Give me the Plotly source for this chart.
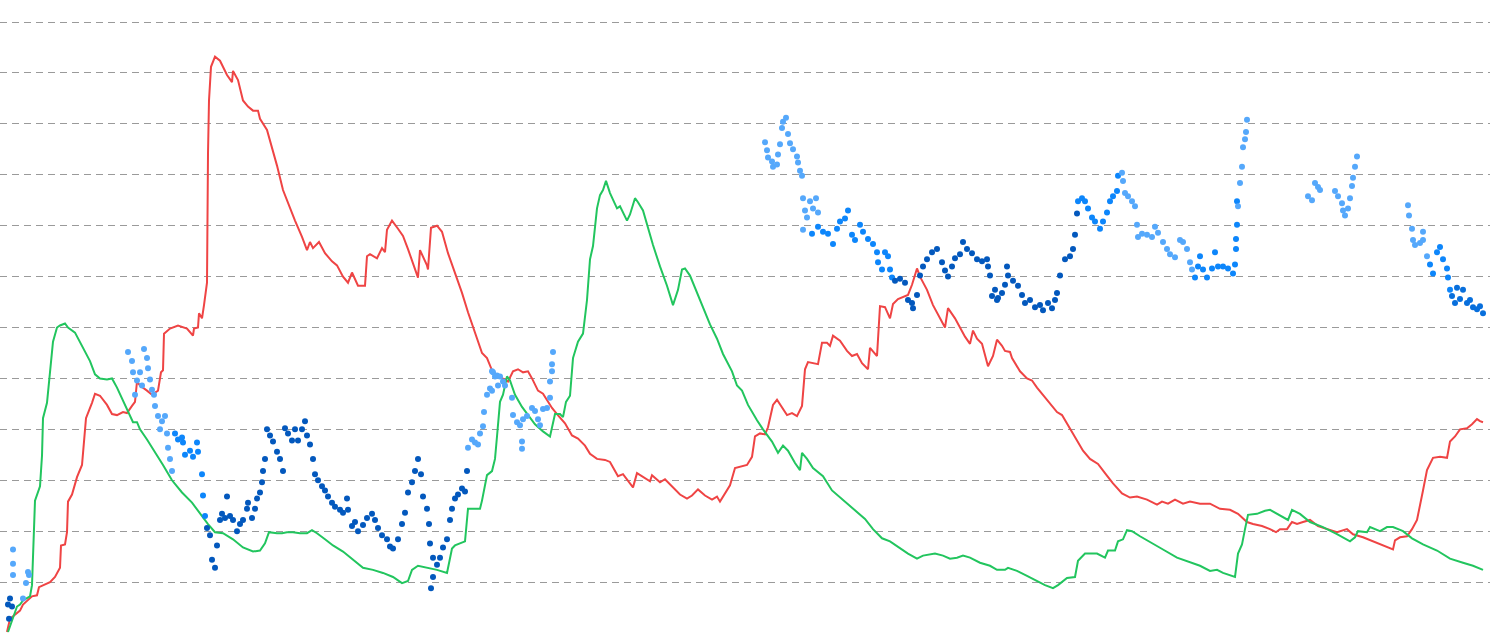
import plotly.graph_objects as go

# ---------------- data ----------------
red_x = [7, 10, 20, 23, 32, 37, 39, 50, 55, 60, 61, 65, 67, 68, 72, 77, 82, 84, 86, 92, 95, 100, 107, 112, 117, 123, 127,
         132, 135, 137, 140, 147, 152, 158, 161, 163, 164, 170, 178, 187, 193, 194, 198, 199, 202, 204, 207, 208, 209, 211,
         215, 220, 227, 232, 233, 238, 243, 248, 253, 258, 260, 267, 272, 277, 283, 288, 295, 302, 307, 310, 313, 319, 325,
         332, 337, 343, 348, 352, 358, 365, 367, 370, 377, 382, 385, 387, 392, 398, 403, 408, 413, 418, 420, 427, 428, 431,
         437, 442, 448, 455, 462, 468, 473, 482, 487, 492, 497, 508, 513, 518, 523, 528, 532, 538, 543, 552, 557, 565, 572,
         578, 585, 590, 597, 605, 610, 618, 623, 633, 637, 643, 650, 652, 660, 665, 673, 680, 687, 692, 698, 705, 712, 717,
         720, 725, 730, 735, 740, 747, 752, 755, 760, 765, 768, 773, 777, 782, 787, 792, 797, 802, 805, 808, 818, 822, 827,
         830, 833, 840, 847, 852, 857, 862, 868, 870, 877, 880, 885, 890, 893, 898, 903, 908, 912, 917, 920, 927, 933, 940,
         945, 948, 955, 960, 965, 970, 973, 977, 982, 988, 993, 997, 1002, 1005, 1010, 1012, 1020, 1027, 1032, 1037, 1043,
         1050, 1057, 1062, 1068, 1075, 1083, 1090, 1098, 1105, 1113, 1122, 1130, 1137, 1147, 1157, 1162, 1168, 1175, 1183,
         1190, 1200, 1210, 1220, 1230, 1238, 1247, 1253, 1262, 1270, 1276, 1280, 1287, 1292, 1297, 1303, 1310, 1318, 1327,
         1337, 1347, 1353, 1363, 1373, 1382, 1388, 1393, 1395, 1400, 1407, 1412, 1417, 1420, 1423, 1427, 1433, 1440, 1447,
         1450, 1455, 1460, 1467, 1472, 1477, 1480, 1483]
red_y = [1, 14, 22, 28, 36, 37, 45, 50, 55, 64, 86, 87, 99, 129, 136, 153, 165, 186, 211, 226, 235, 233, 224, 215, 214, 217,
         216, 223, 227, 247, 243, 238, 234, 238, 256, 258, 294, 299, 302, 299, 292, 299, 300, 314, 309, 322, 344, 471, 523,
         556, 566, 562, 548, 541, 552, 543, 523, 517, 513, 513, 505, 494, 477, 459, 435, 422, 405, 389, 376, 384, 378, 384,
         373, 365, 361, 350, 344, 354, 341, 341, 370, 372, 368, 378, 374, 396, 405, 397, 390, 377, 364, 349, 376, 361, 357,
         398, 400, 394, 373, 354, 334, 315, 300, 275, 270, 258, 253, 247, 257, 259, 256, 257, 250, 238, 235, 221, 215, 206,
         194, 191, 184, 176, 171, 170, 168, 154, 156, 143, 157, 153, 149, 155, 148, 151, 143, 136, 132, 135, 141, 135, 131,
         134, 129, 137, 145, 162, 163, 165, 173, 193, 196, 195, 202, 224, 229, 222, 214, 216, 213, 223, 259, 266, 264, 285,
         285, 282, 292, 287, 277, 272, 274, 265, 259, 280, 272, 321, 320, 309, 323, 328, 330, 332, 342, 358, 350, 337, 322,
         310, 300, 319, 309, 300, 291, 284, 297, 289, 284, 262, 272, 288, 282, 277, 276, 270, 257, 250, 248, 241, 234, 226,
         217, 214, 204, 192, 179, 171, 166, 157, 147, 137, 133, 134, 131, 126, 129, 127, 131, 127, 129, 127, 127, 122, 121,
         117, 109, 107, 105, 102, 99, 102, 102, 109, 107, 109, 111, 105, 102, 99, 102, 97, 94, 90, 86, 84, 82, 91, 94, 95,
         102, 111, 124, 140, 160, 172, 173, 172, 188, 193, 200, 201, 205, 210, 208, 207]

green_x = [8, 13, 17, 20, 23, 30, 32, 35, 40, 42, 43, 47, 50, 53, 57, 60, 65, 68, 75, 82, 90, 95, 100, 107, 112, 117, 122,
           128, 133, 137, 140, 147, 155, 163, 172, 182, 192, 200, 208, 215, 223, 233, 243, 253, 260, 265, 269, 277, 282,
           287, 293, 300, 307, 312, 317, 325, 333, 343, 353, 363, 373, 383, 393, 402, 408, 412, 418, 427, 437, 447, 452,
           455, 465, 468, 473, 480, 482, 487, 492, 495, 497, 500, 503, 507, 510, 515, 522, 528, 535, 543, 550, 555, 560,
           563, 566, 570, 573, 578, 583, 587, 590, 593, 597, 600, 603, 606, 610, 617, 620, 627, 630, 635, 638, 643, 648,
           653, 660, 667, 673, 678, 682, 685, 690, 697, 703, 710, 717, 723, 732, 737, 742, 748, 757, 763, 772, 778, 783,
           788, 795, 800, 802, 807, 813, 823, 832, 838, 848, 857, 865, 873, 882, 890, 900, 908, 917, 923, 935, 943, 950,
           957, 963, 970, 980, 990, 997, 1005, 1008, 1017, 1027, 1037, 1045, 1053, 1058, 1067, 1075, 1078, 1085, 1097,
           1105, 1108, 1115, 1118, 1123, 1127, 1132, 1140, 1150, 1163, 1177, 1180, 1190, 1200, 1210, 1217, 1223, 1235,
           1238, 1242, 1245, 1248, 1257, 1265, 1270, 1277, 1283, 1288, 1292, 1300, 1310, 1323, 1337, 1350, 1355, 1358,
           1367, 1370, 1380, 1387, 1393, 1403, 1412, 1423, 1437, 1450, 1463, 1473, 1483]
green_y = [1, 14, 26, 28, 32, 36, 47, 130, 144, 174, 211, 226, 256, 286, 300, 302, 304, 300, 295, 282, 267, 254, 250, 249,
           250, 241, 230, 217, 207, 207, 200, 190, 178, 165, 150, 138, 128, 117, 107, 99, 98, 92, 84, 80, 81, 88, 99, 98,
           98, 99, 99, 98, 98, 101, 98, 92, 86, 80, 72, 64, 62, 59, 55, 49, 51, 62, 66, 64, 62, 59, 83, 86, 90, 122, 122,
           122, 130, 155, 159, 171, 193, 227, 234, 252, 248, 234, 222, 214, 205, 198, 193, 215, 215, 212, 227, 233, 270,
           286, 294, 327, 367, 380, 417, 430, 435, 444, 432, 417, 419, 405, 411, 427, 423, 415, 397, 381, 360, 341, 322,
           337, 357, 358, 351, 334, 320, 303, 289, 274, 257, 243, 238, 224, 209, 200, 188, 177, 184, 179, 167, 160, 177,
           171, 162, 154, 140, 135, 126, 119, 112, 102, 93, 90, 83, 78, 73, 76, 78, 76, 73, 74, 76, 74, 69, 66, 62, 62,
           64, 61, 56, 51, 47, 44, 47, 54, 55, 71, 78, 78, 74, 81, 81, 90, 92, 101, 100, 95, 89, 82, 74, 73, 69, 66, 61,
           62, 59, 55, 78, 87, 102, 116, 117, 120, 121, 117, 114, 111, 121, 117, 109, 104, 97, 90, 94, 100, 99, 104, 100,
           104, 104, 100, 93, 87, 81, 73, 69, 66, 62]

# blue dots: x, value and colour group (0 = light, 1 = medium, 2 = dark)
blue_x = [8, 10, 12, 9, 13, 13, 13, 23, 26, 29, 28,
          128, 132, 133, 137, 135, 140, 142, 144, 147, 148, 150, 152, 154, 155, 158, 162, 165, 160, 167, 168, 170, 172,
          175, 178, 182, 183, 185, 190, 193, 197, 198, 202, 203, 205,
          207, 210, 212, 215, 217, 220, 222, 225, 227, 230, 233, 237, 240, 243, 247, 248, 252, 255, 257, 260, 262, 263,
          265, 267, 270, 273, 277, 280, 283, 285, 288, 292, 295, 298, 302, 305, 307, 310, 313, 315, 318, 322, 325, 328,
          332, 335, 340, 343, 347, 348, 352, 355, 358, 363, 367, 372, 375, 378, 382, 387, 390, 393, 398, 402, 405, 408,
          412, 415, 418, 421, 423, 427, 429, 430, 433, 431, 433, 437, 440, 443, 447, 450, 452, 455, 458, 462, 465,
          467, 468, 472, 475, 478, 480, 483, 484, 487, 490, 493, 497,
          492, 495, 500, 503, 492, 498, 505, 512, 513, 517, 520, 522, 522, 523, 527, 532, 535, 538, 540, 543, 547, 550,
          550, 552, 552, 553,
          765, 767, 768, 772, 773, 777, 778, 780, 782, 783, 786, 788, 790, 793, 797, 798, 800, 802,
          803, 805, 807, 810, 813, 816, 818,
          803, 812, 818, 823, 828, 833, 837, 840, 845, 848, 852, 855, 860, 863, 868, 873, 877, 878, 882, 885, 888, 890,
          892, 895, 900, 905, 908, 912, 913, 917, 920, 923, 927, 932, 937, 942, 945, 948, 952, 955, 960, 963, 967, 972,
          977, 982, 987, 988, 990, 992, 995, 998, 997, 1002, 1005, 1007, 1008, 1013, 1018, 1022, 1025, 1030, 1035, 1040,
          1043, 1048, 1052, 1055, 1057, 1060, 1065, 1070, 1073, 1075,
          1077, 1078, 1082, 1085, 1088, 1092, 1095, 1100, 1103, 1107, 1110, 1113, 1117,
          1118, 1122, 1123, 1125, 1128, 1132, 1135,
          1137, 1138, 1142, 1147, 1152, 1155, 1158, 1163, 1167, 1170, 1175, 1180, 1183, 1187, 1190,
          1192, 1195, 1198, 1200, 1203, 1207, 1212, 1215, 1218, 1223, 1228, 1233, 1235, 1236, 1236, 1237,
          1237, 1238, 1240, 1242, 1243, 1245, 1246, 1247,
          1308, 1312, 1315, 1318, 1320, 1335, 1338, 1342, 1343, 1345, 1348, 1350, 1352, 1353, 1355, 1357,
          1408, 1409, 1412, 1413, 1415, 1420, 1423, 1423,
          1427, 1430, 1433, 1437, 1440, 1443, 1447, 1448,
          1450, 1452, 1455, 1457, 1460, 1463, 1467, 1470, 1473, 1477, 1480, 1483]
blue_y = [28, 34, 26, 14, 82, 68, 57, 34, 49, 57, 60,
          276, 267, 256, 248, 234, 256, 243, 279, 270, 260, 249, 239, 234, 223, 213, 208, 213, 200, 196, 182, 171, 159,
          196, 190, 192, 187, 175, 179, 173, 187, 178, 156, 135, 115,
          103, 96, 72, 64, 86, 111, 117, 113, 134, 115, 111, 100, 107, 111, 122, 128, 113, 122, 132, 138, 148, 159,
          171, 200, 194, 188, 178, 171, 159, 201, 196, 189, 200, 189, 200, 208, 194, 185, 171, 156, 150, 144, 140, 134,
          128, 124, 121, 118, 132, 121, 105, 109, 100, 106, 113, 117, 111, 103, 96, 92, 85, 83, 92, 107, 118, 138,
          148, 159, 171, 156, 134, 122, 107, 88, 74, 44, 55, 67, 74, 84, 92, 111, 122, 132, 136, 142, 139,
          159, 182, 190, 187, 185, 196, 203, 217, 234, 240, 256, 253,
          257, 252, 252, 247, 238, 243, 243, 231, 214, 207, 204, 188, 181, 210, 213, 221, 218, 210, 204, 220, 221, 231,
          247, 257, 264, 276,
          482, 474, 467, 463, 458, 460, 470, 480, 496, 502, 506, 490, 481, 475, 468, 462, 454, 449,
          427, 415, 408, 424, 417, 427, 413,
          396, 392, 399, 394, 392, 382, 397, 404, 407, 415, 391, 386, 401, 394, 387, 382, 374, 364, 357, 374, 370, 357,
          349, 346, 348, 344, 327, 324, 319, 332, 351, 360, 367, 374, 377, 364, 356, 350, 360, 368, 372, 384, 377, 373,
          367, 365, 367, 360, 351, 331, 337, 329, 327, 334, 342, 360, 351, 346, 341, 332, 324, 327, 320, 322,
          317, 324, 319, 327, 334, 351, 367, 370, 377, 391,
          412, 424, 427, 424, 417, 408, 404, 397, 404, 413, 424, 429, 434,
          449, 452, 444, 432, 429, 424, 419,
          401, 389, 392, 391, 389, 399, 393, 384, 377, 372, 369, 386, 384, 377, 364,
          357, 349, 360, 370, 357, 349, 358, 374, 360, 360, 358, 353, 362, 377, 387, 401,
          424, 419, 442, 458, 477, 485, 492, 504,
          429, 425, 442, 438, 435, 434, 429, 422, 415, 410, 417, 427, 439, 447, 458, 468,
          420, 410, 397, 386, 381, 383, 394, 386,
          370, 362, 353, 374, 379, 367, 358, 349,
          337, 331, 324, 339, 328, 337, 324, 327, 320, 318, 321, 314]
blue_group = ([2, 2, 2, 2, 0, 0, 0, 0, 0, 0, 0] +
              [0] * 22 +
              [1] * 12 +
              [2] * 88 +
              [0] * 12 +
              [0] * 26 +
              [0] * 18 +
              [0] * 7 +
              [1] * 22 +
              [2] * 52 +
              [1] * 13 +
              [0] * 7 +
              [0] * 15 +
              [1] * 16 +
              [0] * 8 +
              [0] * 16 +
              [0] * 8 +
              [1] * 8 +
              [1.5] * 12)

# ---------------- figure ----------------
fig = go.Figure()

fig.add_trace(go.Scatter(x=red_x, y=red_y, mode="lines", line=dict(color="#ef4444", width=2),
                         hoverinfo="skip", showlegend=False))
fig.add_trace(go.Scatter(x=green_x, y=green_y, mode="lines", line=dict(color="#22c55e", width=2),
                         hoverinfo="skip", showlegend=False))
fig.add_trace(go.Scatter(
    x=blue_x, y=blue_y, mode="markers",
    marker=dict(size=6, color=blue_group, cmin=0, cmax=2,
                colorscale=[[0, "#55a8fb"], [0.5, "#0d86fb"], [1, "#0358bd"]],
                line=dict(width=0)),
    hoverinfo="skip", showlegend=False))

fig.update_layout(
    width=1490, height=633,
    margin=dict(l=0, r=0, t=20, b=0),
    paper_bgcolor="white", plot_bgcolor="white",
    showlegend=False,
)
fig.update_xaxes(range=[0, 1490], visible=False, showgrid=False, zeroline=False)
fig.update_yaxes(range=[0, 602], dtick=50, tick0=0, showticklabels=False, ticks="",
                 showgrid=True, gridcolor="#9a9a9a", gridwidth=1, griddash="7px,5px",
                 zeroline=False, showline=False)

fig.write_html("out.html", config={"displayModeBar": False},
               post_script="document.body.style.margin='0';document.body.style.overflow='hidden';")
